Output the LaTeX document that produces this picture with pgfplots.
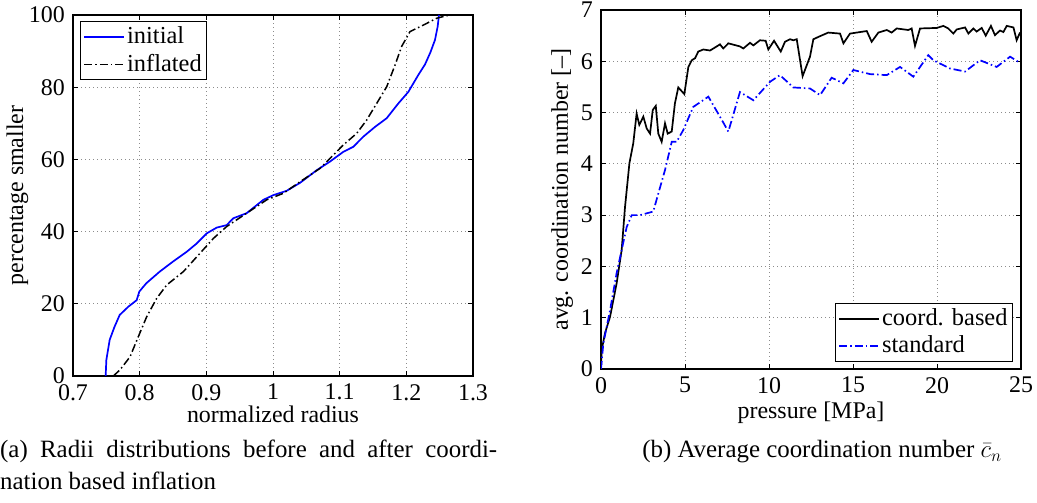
\documentclass[border=0pt]{standalone}
\usepackage{pgfplots}
\pgfplotsset{compat=1.18}
\usepackage{fontspec}
\setmainfont{Liberation Serif}
\definecolor{mblue}{rgb}{0,0,1}
\pgfplotsset{
  mystyle/.style={
    scale only axis,
    anchor=south west,
    /pgf/number format/assume math mode=true,
    tick label style={font=\fontsize{24}{28}\selectfont},
    label style={font=\fontsize{24}{28}\selectfont},
    legend style={font=\fontsize{24.5}{28}\selectfont, draw=black, line width=1bp, fill=white,
      inner xsep=3bp, inner ysep=3bp, row sep=3bp, cells={anchor=west}},
    legend image code/.code={\draw[line width=1.7bp,#1] (0bp,0bp) -- (40bp,0bp);},
    grid=major,
    major grid style={line width=0.8bp, gray!90, dash pattern=on 1bp off 3bp},
    axis line style={line width=1.3bp},
    major tick length=5bp,
    tick style={line width=0.9bp, black},
    tick align=inside,
  },
  dashdot/.style={dash pattern=on 8bp off 3bp on 1.5bp off 3bp},
}
\begin{document}
\fontsize{24}{28}\selectfont
\begin{tikzpicture}
\useasboundingbox (0bp,0bp) rectangle (1037bp,503bp);
\begin{axis}[mystyle,
  at={(73bp,127bp)}, width=400bp, height=361bp,
  xmin=0.7, xmax=1.3, ymin=0, ymax=100,
  xtick={0.7,0.8,0.9,1,1.1,1.2,1.3},
  xticklabels={0.7,0.8,0.9,1,1.1,1.2,1.3},
  ytick={0,20,40,60,80,100},
  xlabel={normalized radius},
  ylabel={percentage smaller},
  xlabel style={at={(axis description cs:0.5,-0.130)}, anchor=base},
  ylabel style={at={(axis description cs:-0.125,0.5)}, anchor=base},
  legend style={at={(0.0175,0.983)}, anchor=north west},
]
\addplot[mblue, line width=1.7bp] coordinates {
(0.749,0) (0.750,4.4) (0.755,10) (0.762,13.5) (0.770,16.9) (0.783,19.2) (0.7955,21)
(0.7995,23.4) (0.81,25.7) (0.83,28.9) (0.850,31.7) (0.8705,34.4) (0.8855,36.7)
(0.9005,39.5) (0.9155,41.1) (0.9305,41.8) (0.9405,43.7) (0.9605,45.1) (0.9855,48.8)
(1.0005,50.1) (1.0205,51.3) (1.0405,53.5) (1.0655,57) (1.0855,59.4) (1.1055,62.1)
(1.1205,63.5) (1.1355,66.3) (1.153,69) (1.1705,71.4) (1.188,75.5) (1.203,78.7)
(1.218,83.4) (1.228,86.3) (1.236,89.6) (1.243,93.1) (1.247,96.8) (1.249,100)
};
\addlegendentry{initial}
\addplot[black, line width=1.5bp, dashdot] coordinates {
(0.7605,0) (0.7705,1.7) (0.7855,5.3) (0.798,10.9) (0.8105,16.4) (0.8255,21.5)
(0.8405,25.2) (0.8655,28.9) (0.8905,34) (0.9105,38.1) (0.9305,41.4) (0.9605,45.1)
(0.9905,48.8) (1.0155,50.6) (1.0405,53.8) (1.0705,57.5) (1.1055,64) (1.1255,67.2)
(1.1405,70.9) (1.1555,75.5) (1.1705,80.1) (1.183,86.1) (1.193,91.3) (1.2055,95.4)
(1.2255,97.2) (1.2455,99.1) (1.2605,99.8) (1.2705,100)
};
\addlegendentry{inflated}
\end{axis}
\begin{axis}[mystyle,
  at={(601bp,134bp)}, width=420bp, height=359bp,
  xmin=0, xmax=25, ymin=0, ymax=7,
  xtick={0,5,10,15,20,25},
  ytick={0,1,2,3,4,5,6,7},
  xlabel={pressure [MPa]},
  ylabel={avg. coordination number [--]},
  xlabel style={at={(axis description cs:0.5,-0.1365)}, anchor=base},
  ylabel style={at={(axis description cs:-0.0786,0.5)}, anchor=base},
  legend style={at={(0.981,0.0195)}, anchor=south east},
]
\addplot[black, line width=1.7bp] coordinates {
(0,0) (0.04,0.37) (0.24,0.70) (0.54,1.02) (0.93,1.67) (1.23,2.32) (1.43,3.16) (1.69,4.01)
(1.92,4.40) (2.12,4.98) (2.28,4.76) (2.52,4.92) (2.72,4.69) (2.92,4.59) (3.08,5.05)
(3.26,5.13) (3.41,4.59) (3.61,4.43) (3.81,4.79) (3.97,4.59) (4.21,4.63) (4.40,5.18)
(4.60,5.49) (4.96,5.36) (5.20,5.89) (5.40,6.02) (5.60,6.06) (5.79,6.19) (6.09,6.23)
(6.49,6.21) (6.89,6.29) (7.08,6.33) (7.28,6.25) (7.58,6.35) (8.27,6.29) (8.47,6.25)
(8.87,6.36) (9.07,6.31) (9.46,6.41) (9.80,6.40) (9.96,6.23) (10.30,6.40) (10.70,6.19)
(10.95,6.38) (11.25,6.43) (11.45,6.41) (11.65,6.43) (12.0,5.71) (12.44,6.09) (12.64,6.43)
(13.04,6.49) (13.53,6.56) (14.23,6.54) (14.43,6.35) (14.82,6.54) (15.82,6.59) (16.11,6.38)
(16.51,6.56) (17.01,6.61) (17.3,6.56) (17.60,6.64) (18.29,6.61) (18.49,6.64) (18.69,6.30)
(18.99,6.64) (19.98,6.65) (20.38,6.69) (20.67,6.64) (20.97,6.54) (21.17,6.62) (21.67,6.66)
(21.87,6.54) (22.16,6.64) (22.36,6.58) (22.66,6.65) (22.9,6.50) (23.21,6.69) (23.45,6.51)
(23.75,6.60) (23.95,6.57) (24.15,6.69) (24.55,6.66) (24.74,6.41) (24.94,6.56)
};
\addlegendentry{coord. based}
\addplot[mblue, line width=1.7bp, dashdot] coordinates {
(0,0) (0.14,0.50) (0.54,1.15) (0.93,1.87) (1.23,2.32) (1.53,2.77) (1.83,3.00) (2.32,3.0)
(3.11,3.07) (3.41,3.42) (3.81,3.88) (4.21,4.43) (4.50,4.43) (4.90,4.66) (5.49,5.11)
(6.39,5.31) (7.08,4.92) (7.58,4.63) (8.27,5.40) (9.07,5.24) (10.06,5.60) (10.65,5.73)
(11.45,5.49) (12.44,5.47) (13.04,5.34) (13.73,5.68) (14.43,5.57) (15.02,5.83) (16.01,5.75)
(17.01,5.73) (17.80,5.89) (18.59,5.70) (19.48,6.12) (19.78,6.02) (20.77,5.86) (21.67,5.80)
(22.56,6.02) (23.55,5.89) (24.35,6.09) (24.94,5.97)
};
\addlegendentry{standard}
\end{axis}
\node[anchor=base west, inner sep=0, font=\fontsize{25}{30}\selectfont] at (0bp,45bp)
  {\makebox[497bp][s]{(a) Radii distributions before and after coordi-}};
\node[anchor=base west, inner sep=0, font=\fontsize{25}{30}\selectfont] at (0bp,14bp)
  {nation based inflation};
\node[anchor=base, inner sep=0, font=\fontsize{25}{30}\selectfont] at (822bp,45bp)
  {(b) Average coordination number $\bar{c}_n$};
\end{tikzpicture}
\end{document}
